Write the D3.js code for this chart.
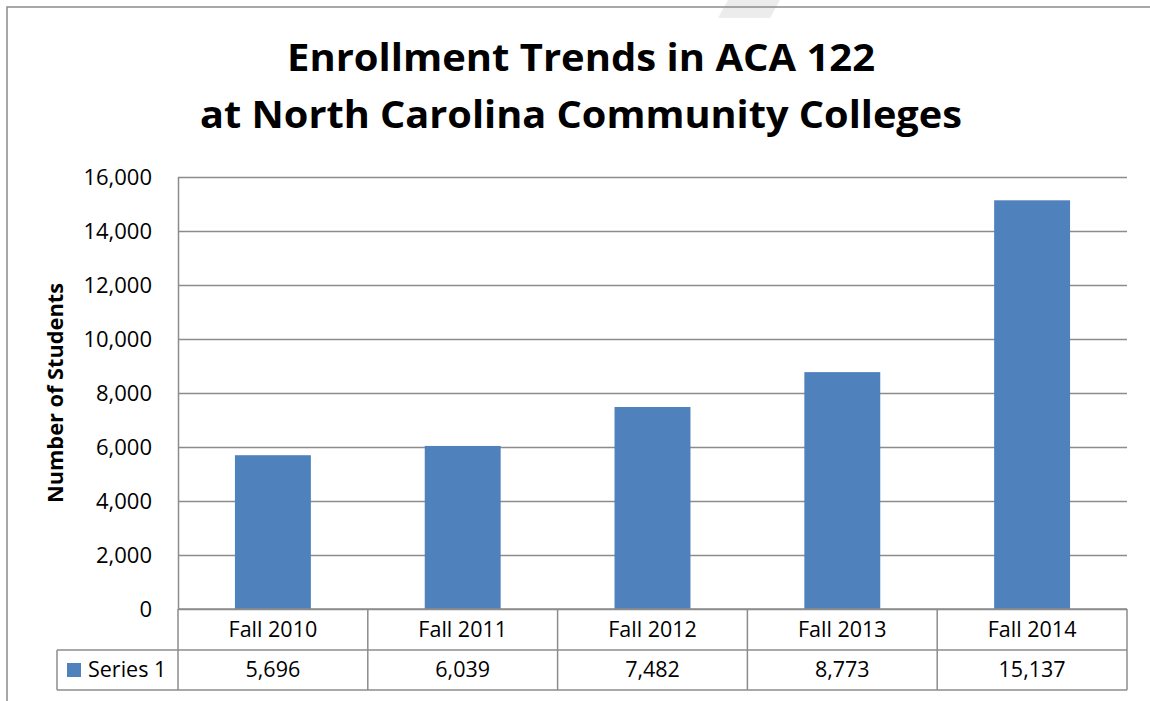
<!DOCTYPE html>
<html><head><meta charset="utf-8">
<script src="https://cdn.jsdelivr.net/npm/d3@7"></script>
<style>body{margin:0;background:#fff}svg{display:block}</style>
</head><body>
<svg id="c" width="1150" height="701"></svg>
<script>
const categories = ["Fall 2010","Fall 2011","Fall 2012","Fall 2013","Fall 2014"];
const values = [5696, 6039, 7482, 8773, 15137];
const seriesName = "Series 1";
const yTicks = [0,2000,4000,6000,8000,10000,12000,14000,16000];
const titleLines = ["Enrollment Trends in ACA 122","at North Carolina Community Colleges"];
const yTitle = "Number of Students";

const svg = d3.select("#c");
const font = "'Open Sans', sans-serif";
const L=178, R=1127, T=177, B=609;
const gridColor="#8c8c8c";

// frame
svg.append("polygon").attr("points","728,0 780,0 770,18 718,18").attr("fill","#ececec");
svg.append("path").attr("d","M7,701 V7 H1150").attr("fill","none").attr("stroke","#8c8c8c").attr("stroke-width",1.5);

const x = d3.scaleBand().domain(categories).range([L,R]).paddingInner(0.6).paddingOuter(0.3);
const xc = d3.scaleBand().domain(categories).range([L,R]);
const y = d3.scaleLinear().domain([0,16000]).range([B,T]);

// grid
svg.append("g").selectAll("line").data(yTicks).join("line")
  .attr("x1",L).attr("x2",R).attr("y1",d=>y(d)+0.5).attr("y2",d=>y(d)+0.5)
  .attr("stroke",gridColor).attr("stroke-width",1.5);

// y axis labels
const yAxis = d3.axisLeft(y).tickValues(yTicks).tickFormat(d3.format(",")).tickSize(0).tickPadding(26);
const ga = svg.append("g").attr("transform",`translate(${L},0)`).call(yAxis);
ga.select(".domain").remove();
ga.selectAll("text").attr("font-family",font).attr("font-size",22).attr("fill","#000");
svg.append("line").attr("x1",L+0.5).attr("x2",L+0.5).attr("y1",T).attr("y2",B).attr("stroke",gridColor).attr("stroke-width",1.5);

// bars
svg.append("g").selectAll("rect").data(values).join("rect")
  .attr("x",(d,i)=>x(categories[i])).attr("width",x.bandwidth())
  .attr("y",d=>y(d)).attr("height",d=>B-y(d)).attr("fill","#4F81BD");

// data table
const r1=609, r2=650, r3=690, tL=57;
const tbl = svg.append("g").attr("stroke",gridColor).attr("stroke-width",1.5).attr("fill","none");
tbl.append("line").attr("x1",L).attr("x2",R).attr("y1",r1).attr("y2",r1);
tbl.append("line").attr("x1",tL).attr("x2",R).attr("y1",r2).attr("y2",r2);
tbl.append("line").attr("x1",tL).attr("x2",R).attr("y1",r3).attr("y2",r3);
tbl.append("line").attr("x1",tL).attr("x2",tL).attr("y1",r2).attr("y2",r3);
const cuts = categories.map(c=>xc(c)).concat([R]);
tbl.selectAll(".v").data(cuts).join("line").attr("x1",d=>d).attr("x2",d=>d).attr("y1",r1).attr("y2",r3);

svg.append("g").selectAll("text").data(categories).join("text")
  .attr("x",d=>xc(d)+xc.bandwidth()/2).attr("y",637).attr("text-anchor","middle")
  .attr("font-family",font).attr("font-size",21.5).text(d=>d);
svg.append("g").selectAll("text").data(values).join("text")
  .attr("x",(d,i)=>xc(categories[i])+xc.bandwidth()/2).attr("y",677).attr("text-anchor","middle")
  .attr("font-family",font).attr("font-size",21.5).text(d=>d3.format(",")(d));
svg.append("rect").attr("x",67).attr("y",663).attr("width",14).attr("height",14).attr("fill","#4F81BD");
svg.append("text").attr("x",88).attr("y",677).attr("font-family",font).attr("font-size",21.5).text(seriesName);

// titles
const titleWidths = [588, 762];
svg.append("g").selectAll("text").data(titleLines).join("text")
  .attr("x",581).attr("y",(d,i)=>71+i*57).attr("text-anchor","middle")
  .attr("font-family",font).attr("font-weight","bold").attr("font-size",37)
  .attr("textLength",(d,i)=>titleWidths[i]).attr("lengthAdjust","spacingAndGlyphs").text(d=>d);
svg.append("text").attr("transform","translate(63,393) rotate(-90)").attr("text-anchor","middle")
  .attr("font-family",font).attr("font-weight","bold").attr("font-size",21)
  .attr("textLength",220).attr("lengthAdjust","spacingAndGlyphs").text(yTitle);
</script>
</body></html>
